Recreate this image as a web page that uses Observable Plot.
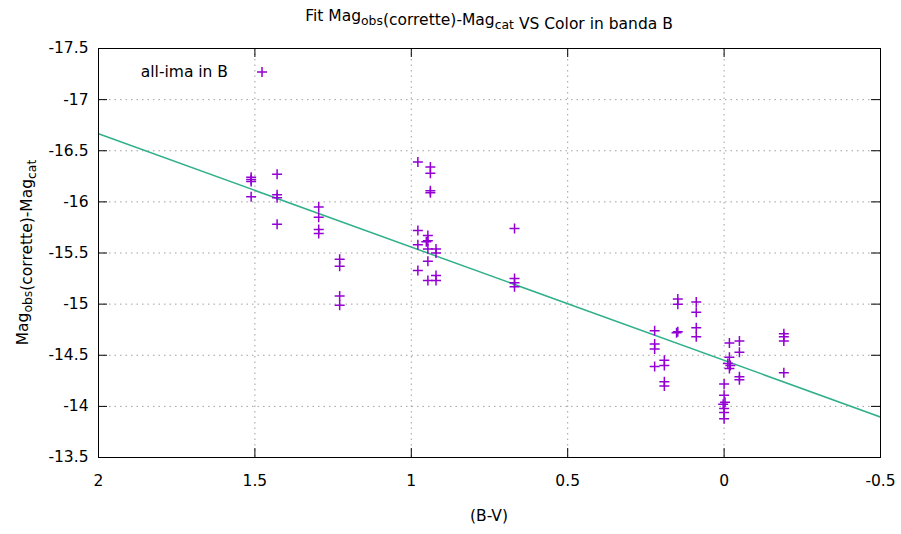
<!DOCTYPE html>
<html><head><meta charset="utf-8">
<script src="https://cdn.jsdelivr.net/npm/d3@7"></script>
<script src="https://cdn.jsdelivr.net/npm/@observablehq/plot@0.6"></script>
<style>
body{margin:0;background:#fff}
#chart svg{display:block}
</style>
</head><body><div id="chart"></div>
<script>
// B-V colour index of each measurement
const colorBV = [
  1.512, 1.512, 1.512, 1.512,
  1.429, 1.429, 1.429, 1.429,
  1.296, 1.296, 1.296, 1.296,
  1.229, 1.229, 1.229, 1.229,
  0.979, 0.939, 0.939, 0.939, 0.939,
  0.979, 0.979, 0.947, 0.947, 0.952,
  0.947, 0.921, 0.921, 0.947, 0.979, 0.947, 0.921, 0.921,
  0.670, 0.670, 0.670, 0.670,
  0.222, 0.222, 0.222, 0.222,
  0.191, 0.191, 0.191, 0.191,
  0.148, 0.148, 0.148, 0.152,
  0.089, 0.089, 0.089, 0.089,
  -0.017, -0.049, -0.049, -0.017, -0.012, -0.020, -0.017, -0.049, -0.049,
  0.000, 0.000, -0.003, 0.003, 0.000, 0.000, 0.000,
  -0.191, -0.191, -0.191, -0.191
];
// Mag_obs(corrette) - Mag_cat
const magDiff = [
  -16.24, -16.22, -16.20, -16.05,
  -16.27, -16.07, -16.04, -15.78,
  -15.95, -15.85, -15.73, -15.69,
  -15.44, -15.37, -15.08, -14.99,
  -16.39, -16.34, -16.28, -16.11, -16.09,
  -15.72, -15.58, -15.67, -15.62, -15.61,
  -15.54, -15.54, -15.50, -15.42, -15.33, -15.23, -15.28, -15.23,
  -15.74, -15.25, -15.21, -15.17,
  -14.74, -14.61, -14.56, -14.39,
  -14.45, -14.40, -14.24, -14.20,
  -15.05, -15.00, -14.73, -14.72,
  -15.02, -14.92, -14.77, -14.68,
  -14.62, -14.64, -14.53, -14.48, -14.42, -14.40, -14.37, -14.29, -14.26,
  -14.22, -14.11, -14.04, -14.02, -13.98, -13.94, -13.88,
  -14.71, -14.68, -14.64, -14.33
];
const xTicks = [2, 1.5, 1, 0.5, 0, -0.5];
const yTicks = [-17.5, -17, -16.5, -16, -15.5, -15, -14.5, -14, -13.5];
// linear fit  y = intercept + slope * (B-V)
const fitIntercept = -14.45;
const fitSlope = -1.108;
const seriesName = "all-ima in B";

const W = 901, H = 534;
const mL = 98, mR = 21, mT = 48, mB = 77;
const pw = W - mL - mR, ph = H - mT - mB;
const FONT = "DejaVu Sans";
const FS = 15.5;
const purple = "#9400d3";
const green = "#30b08a";
const R = 5;

const points = colorBV.map((x, i) => ({x, y: magDiff[i]}));
const xExt = d3.extent(xTicks);
const fitLine = xExt.map(x => ({x, y: fitIntercept + fitSlope * x}));

const plusSymbol = {
  draw(ctx, size) {
    const r = Math.sqrt(size / Math.PI);
    ctx.moveTo(-r, 0); ctx.lineTo(r, 0);
    ctx.moveTo(0, -r); ctx.lineTo(0, r);
  }
};

const plot = Plot.plot({
  width: W, height: H,
  marginLeft: mL, marginRight: mR, marginTop: mT, marginBottom: mB,
  style: {fontFamily: FONT, fontSize: FS + "px", color: "#000", background: "#fff"},
  x: {domain: [2, -0.5], ticks: xTicks},
  y: {domain: [-13.5, -17.5], ticks: yTicks},
  marks: [
    Plot.gridX(xTicks.slice(1, -1), {stroke: "#a0a0a0", strokeOpacity: 1, strokeDasharray: "1.5,4"}),
    Plot.gridY(yTicks.slice(1, -1), {stroke: "#a0a0a0", strokeOpacity: 1, strokeDasharray: "1.5,4"}),
    Plot.tickY(yTicks, {y: d => d, insetRight: pw - 9, stroke: "#000"}),
    Plot.tickY(yTicks, {y: d => d, insetLeft: pw - 9, stroke: "#000"}),
    Plot.tickX(xTicks, {x: d => d, insetTop: ph - 9, stroke: "#000"}),
    Plot.tickX(xTicks, {x: d => d, insetBottom: ph - 9, stroke: "#000"}),
    Plot.line(fitLine, {x: "x", y: "y", stroke: green, strokeWidth: 1.5, clip: true}),
    Plot.dot(points, {x: "x", y: "y", symbol: plusSymbol, r: R, stroke: purple, strokeWidth: 1.5, fill: "none"}),
    Plot.frame({stroke: "#000", strokeWidth: 1}),
    Plot.axisX({ticks: xTicks, tickSize: 0, tickPadding: 17, tickFormat: d => String(d), label: null, fontSize: FS}),
    Plot.axisY({ticks: yTicks, tickSize: 0, tickPadding: 10, tickFormat: d => String(d), label: null, fontSize: FS})
  ]
});

document.getElementById("chart").appendChild(plot);

const svg = d3.select(plot);
// text with subscripts
function subText(sel, parts) {
  parts.forEach(p => {
    if (p.sub) {
      sel.append("tspan").attr("dy", 4).attr("font-size", "0.8em").text(p.t);
      sel.append("tspan").attr("dy", -4).text("");
    } else sel.append("tspan").text(p.t);
  });
}
const title = svg.append("text")
  .attr("x", mL + pw / 2).attr("y", 21)
  .attr("text-anchor", "middle").attr("font-family", FONT).attr("font-size", FS).attr("fill", "#000");
subText(title, [{t: "Fit Mag"}, {t: "obs", sub: true}, {t: "(corrette)-Mag"}, {t: "cat", sub: true}, {t: " VS Color in banda B"}]);

// x label
svg.append("text").attr("x", mL + pw / 2).attr("y", 521)
  .attr("text-anchor", "middle").attr("font-family", FONT).attr("font-size", FS).attr("fill", "#000")
  .text("(B-V)");

// y label
const yl = svg.append("text")
  .attr("transform", `translate(28,${mT + ph / 2}) rotate(-90)`)
  .attr("text-anchor", "middle").attr("font-family", FONT).attr("font-size", FS).attr("fill", "#000");
subText(yl, [{t: "Mag"}, {t: "obs", sub: true}, {t: "(corrette)-Mag"}, {t: "cat", sub: true}]);

// legend
svg.append("text").attr("x", 228).attr("y", 77)
  .attr("text-anchor", "end").attr("font-family", FONT).attr("font-size", FS).attr("fill", "#000")
  .text(seriesName);
svg.append("path").attr("transform", "translate(262,72)")
  .attr("d", d3.symbol(plusSymbol, Math.PI * R * R)())
  .attr("stroke", purple).attr("stroke-width", 1.5).attr("fill", "none");
</script>
</body></html>
